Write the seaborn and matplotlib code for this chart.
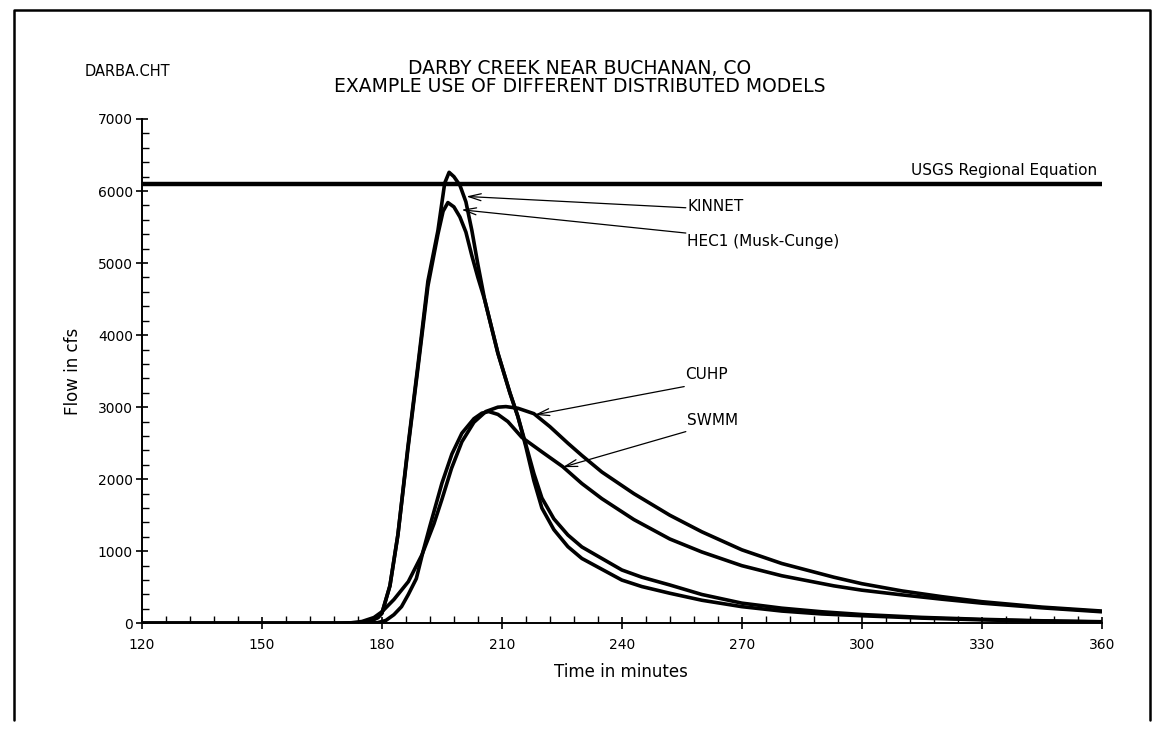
import matplotlib
matplotlib.use("Agg")
import matplotlib.pyplot as plt
import numpy as np
import pandas as pd
import seaborn as sns
from matplotlib.ticker import MultipleLocator
from matplotlib.lines import Line2D

# ---------------- data ----------------
kinnet_time = [120, 170, 174, 177, 179, 180, 182, 184, 186.5, 189, 191.5, 194, 195.7, 196.8,
               198, 199.5, 201, 202.5, 204, 205.7, 209, 212, 214, 216, 218, 220, 223, 226.5,
               230, 235, 240, 245, 252, 260, 270, 280, 290, 300, 315, 330, 345, 360]
kinnet_flow = [0, 0, 5, 30, 80, 140, 520, 1230, 2450, 3580, 4750, 5450, 6110, 6260,
               6200, 6080, 5850, 5450, 4980, 4490, 3750, 3200, 2870, 2450, 1980, 1600, 1300, 1064,
               900, 750, 600, 510, 417, 320, 231, 170, 130, 105, 72, 48, 30, 18]

hec1_time = [120, 170, 174, 177, 179, 180, 182, 184, 186.5, 189, 191.5, 194, 195.3, 196.5,
             198, 199.5, 201, 202.5, 204, 205.7, 209, 212, 214, 216, 218, 220, 223, 226.5,
             230, 235, 240, 245, 252, 260, 270, 280, 290, 300, 315, 330, 345, 360]
hec1_flow = [0, 0, 5, 30, 80, 140, 520, 1230, 2420, 3540, 4680, 5400, 5720, 5840,
             5780, 5640, 5430, 5100, 4800, 4490, 3750, 3200, 2870, 2480, 2080, 1740, 1450, 1226,
             1060, 900, 740, 640, 532, 400, 280, 210, 160, 122, 82, 55, 35, 22]

cuhp_time = [120, 168, 172, 175, 178, 180, 183, 186.6, 190, 193, 195, 197.4, 200, 203, 206,
             209, 211, 214, 218, 222, 226.5, 230, 235, 243, 252, 260, 270, 280, 293, 300,
             310, 320, 330, 345, 360]
cuhp_flow = [0, 0, 5, 25, 80, 160, 330, 578, 950, 1380, 1720, 2150, 2520, 2790, 2940,
             3000, 3008, 2985, 2910, 2730, 2500, 2330, 2100, 1800, 1500, 1270, 1020, 830, 640, 550,
             450, 370, 300, 225, 170]

swmm_time = [120, 176, 179, 181, 183, 184.9, 186.6, 188.6, 190.3, 192, 195, 197.5, 200, 203, 205,
             206.7, 209, 211.5, 215, 220, 225.2, 230, 235, 243, 252, 260, 270, 280, 293, 300,
             310, 320, 330, 345, 360]
swmm_flow = [0, 0, 10, 40, 120, 231, 400, 620, 1000, 1350, 1944, 2350, 2639, 2840, 2917,
             2939, 2900, 2800, 2580, 2380, 2175, 1940, 1730, 1440, 1170, 990, 800, 660, 520, 460,
             395, 335, 280, 215, 160]

usgs_flow = 6100

models = ["KINNET", "HEC1", "CUHP", "SWMM"]
series = {"KINNET": (kinnet_time, kinnet_flow), "HEC1": (hec1_time, hec1_flow),
          "CUHP": (cuhp_time, cuhp_flow), "SWMM": (swmm_time, swmm_flow)}

df = pd.concat([pd.DataFrame({"model": m, "time": series[m][0], "flow": series[m][1]})
                for m in models], ignore_index=True)

# ---------------- figure ----------------
sns.set_style("ticks")
plt.rcParams["font.family"] = ["DejaVu Sans"]
plt.rcParams["text.color"] = "black"
plt.rcParams["axes.labelcolor"] = "black"
plt.rcParams["xtick.color"] = "black"
plt.rcParams["ytick.color"] = "black"

W, H = 1158, 731
fig = plt.figure(figsize=(W / 100, H / 100), dpi=100)
x0, x1, y0, y1 = 142, 1101.7, 623.3, 119
ax = fig.add_axes([x0 / W, 1 - y0 / H, (x1 - x0) / W, (y0 - y1) / H])

sns.lineplot(data=df, x="time", y="flow", hue="model",
             palette={m: "black" for m in models}, estimator=None, sort=True,
             legend=False, linewidth=2.6, ax=ax,
             solid_joinstyle="round", solid_capstyle="round")

ax.axhline(usgs_flow, color="black", lw=3.2, zorder=3)

ax.set_xlim(120, 360)
ax.set_ylim(0, 7000)
ax.xaxis.set_major_locator(MultipleLocator(30))
ax.xaxis.set_minor_locator(MultipleLocator(6))
ax.yaxis.set_major_locator(MultipleLocator(1000))
ax.yaxis.set_minor_locator(MultipleLocator(200))

for s in ["top", "right"]:
    ax.spines[s].set_visible(False)
for s in ["left", "bottom"]:
    ax.spines[s].set_linewidth(1.4)
    ax.spines[s].set_color("black")

ax.tick_params(which="both", bottom=True, left=True, top=False, right=False, colors="black")
ax.tick_params(which="major", direction="inout", length=9, width=1.2, labelsize=10)
ax.tick_params(which="minor", direction="in", length=5, width=1.0)
ax.tick_params(axis="x", which="major", pad=6)
ax.tick_params(axis="y", which="major", pad=2)

ax.set_xlabel("Time in minutes", fontsize=12, color="black")
ax.set_ylabel("Flow in cfs", fontsize=12, color="black")
ax.xaxis.set_label_coords(0.499, -0.078)
ax.yaxis.set_label_coords(-0.062, 0.5)
ax.grid(False)

# titles
fig.text(580 / W, 1 - 69 / H, "DARBY CREEK NEAR BUCHANAN, CO", ha="center", va="center",
         fontsize=13.5, color="black")
fig.text(580 / W, 1 - 86 / H, "EXAMPLE USE OF DIFFERENT DISTRIBUTED MODELS",
         ha="center", va="center", fontsize=13.5, color="black")
fig.text(85 / W, 1 - 72 / H, "DARBA.CHT", ha="left", va="center", fontsize=10.5, color="black")

# annotations
ax.text(358.8, 6282, "USGS Regional Equation", ha="right", va="center", fontsize=11, color="black")
labels = [
    ("KINNET", (201.1, 5925), (256.0, 5768), 5786),
    ("HEC1 (Musk-Cunge)", (199.9, 5740), (256.0, 5417), 5300),
    ("CUHP", (218.2, 2893), (255.6, 3286), 3449),
    ("SWMM", (225.2, 2167), (256.0, 2661), 2815),
]
for txt, head, tail, ty in labels:
    ax.annotate("", xy=head, xytext=tail,
                arrowprops=dict(arrowstyle="->,head_length=0.9,head_width=0.25",
                                lw=0.9, color="black", shrinkA=0, shrinkB=0))
    ax.text(tail[0] + 0.3, ty, txt, ha="left", va="center", fontsize=11, color="black")

# page frame
fig.add_artist(Line2D([14 / W, 14 / W, 1150 / W, 1150 / W],
                      [1 - 720 / H, 1 - 10 / H, 1 - 10 / H, 1 - 720 / H],
                      transform=fig.transFigure, color="black", lw=1.8))

fig.savefig("out.png", dpi=100)
